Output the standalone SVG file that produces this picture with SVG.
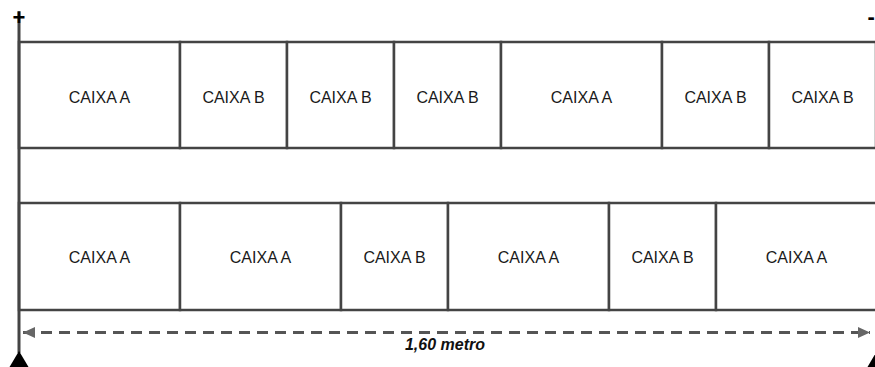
<svg xmlns="http://www.w3.org/2000/svg" width="875" height="367" viewBox="0 0 875 367">
  <style>
    .box { fill: #ffffff; stroke: #444444; stroke-width: 2.5; }
    .lbl { font-family: "Liberation Sans", Arial, sans-serif; font-size: 16px; fill: #1a1a1a; text-anchor: middle; }
    .sign { font-family: "Liberation Sans", Arial, sans-serif; font-size: 22px; font-weight: bold; fill: #000000; text-anchor: middle; }
    .edge { stroke: #444444; stroke-width: 3; fill: none; }
    .dim { stroke: #555555; stroke-width: 3; stroke-dasharray: 11 7; fill: none; }
    .dimlbl { font-family: "Liberation Sans", Arial, sans-serif; font-size: 16px; font-weight: bold; font-style: italic; fill: #111111; text-anchor: middle; }
    .foot { fill: #000000; }
  </style>
  <defs>
    <marker id="arrEnd" markerWidth="12" markerHeight="11" refX="12" refY="5.5" orient="auto" markerUnits="userSpaceOnUse">
      <path d="M0,0 L12,5.5 L0,11 Z" fill="#666666"/>
    </marker>
    <marker id="arrStart" markerWidth="12" markerHeight="11" refX="0" refY="5.5" orient="auto" markerUnits="userSpaceOnUse">
      <path d="M12,0 L0,5.5 L12,11 Z" fill="#666666"/>
    </marker>
  </defs>
  <rect x="0" y="0" width="875" height="367" fill="#ffffff"/>

  <g id="row-top">
    <g id="top-1"><rect class="box" x="19" y="42" width="161" height="106"/><text class="lbl" x="99.5" y="103">CAIXA A</text></g>
    <g id="top-2"><rect class="box" x="180" y="42" width="107" height="106"/><text class="lbl" x="233.5" y="103">CAIXA B</text></g>
    <g id="top-3"><rect class="box" x="287" y="42" width="107" height="106"/><text class="lbl" x="340.5" y="103">CAIXA B</text></g>
    <g id="top-4"><rect class="box" x="394" y="42" width="107" height="106"/><text class="lbl" x="447.5" y="103">CAIXA B</text></g>
    <g id="top-5"><rect class="box" x="501" y="42" width="161" height="106"/><text class="lbl" x="581.5" y="103">CAIXA A</text></g>
    <g id="top-6"><rect class="box" x="662" y="42" width="107" height="106"/><text class="lbl" x="715.5" y="103">CAIXA B</text></g>
    <g id="top-7"><rect class="box" x="769" y="42" width="107" height="106"/><text class="lbl" x="822.5" y="103">CAIXA B</text></g>
  </g>

  <g id="row-bottom">
    <g id="bot-1"><rect class="box" x="19" y="203" width="161" height="107"/><text class="lbl" x="99.5" y="263">CAIXA A</text></g>
    <g id="bot-2"><rect class="box" x="180" y="203" width="161" height="107"/><text class="lbl" x="260.5" y="263">CAIXA A</text></g>
    <g id="bot-3"><rect class="box" x="341" y="203" width="107" height="107"/><text class="lbl" x="394.5" y="263">CAIXA B</text></g>
    <g id="bot-4"><rect class="box" x="448" y="203" width="161" height="107"/><text class="lbl" x="528.5" y="263">CAIXA A</text></g>
    <g id="bot-5"><rect class="box" x="609" y="203" width="107" height="107"/><text class="lbl" x="662.5" y="263">CAIXA B</text></g>
    <g id="bot-6"><rect class="box" x="716" y="203" width="161" height="107"/><text class="lbl" x="796.5" y="263">CAIXA A</text></g>
  </g>

  <g id="left-end">
    <line class="edge" x1="19" y1="11" x2="19" y2="353"/>
    <text class="sign" x="19" y="24.5">+</text>
    <polygon class="foot" points="19,351 9.5,367 28.5,367"/>
  </g>
  <g id="right-end">
    <text class="sign" x="871.2" y="23.5">-</text>
    <polygon class="foot" points="877,351 867.5,367 886.5,367"/>
  </g>

  <g id="connectors">
    <line class="dim" x1="23" y1="332.5" x2="870" y2="332.5" marker-start="url(#arrStart)" marker-end="url(#arrEnd)"/>
    <text class="dimlbl" x="445" y="350">1,60 metro</text>
  </g>
</svg>
